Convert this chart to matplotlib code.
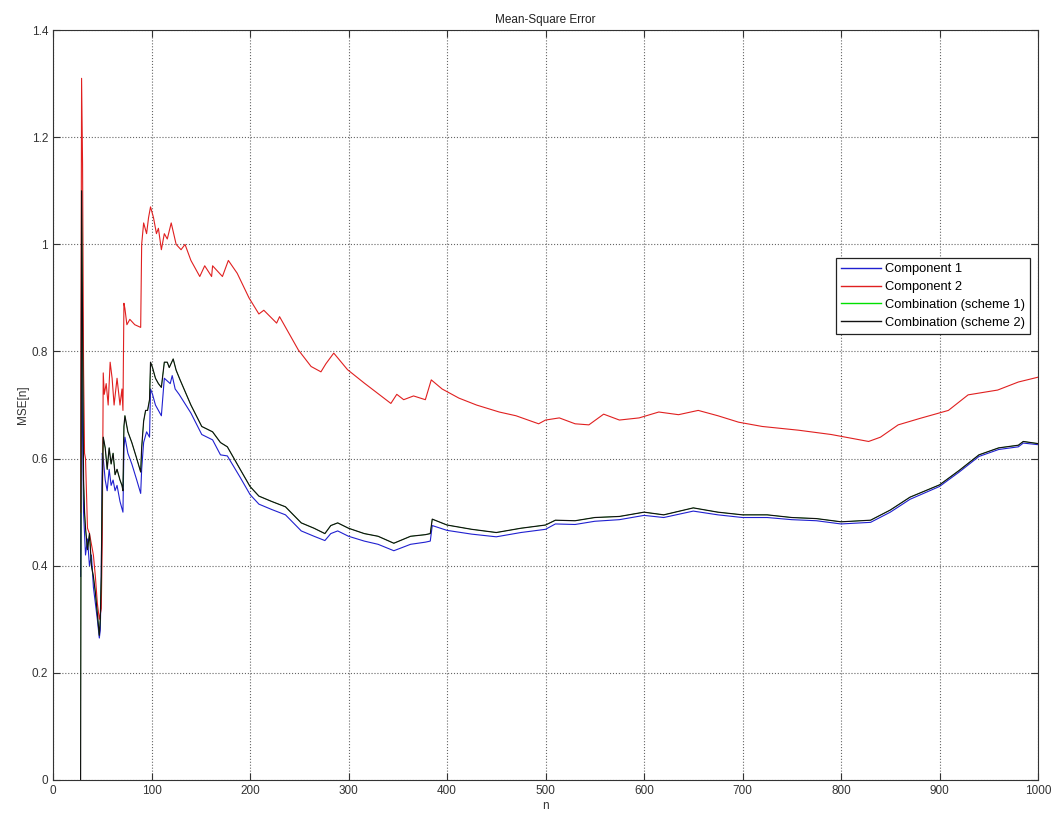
import matplotlib
matplotlib.use("Agg")
import matplotlib.pyplot as plt
from matplotlib.ticker import FuncFormatter

# Component 1 (blue)
n_c1 = [28, 29, 30, 31, 33, 35, 37, 39, 41, 43, 45, 47, 48, 49, 50, 51, 53, 55, 57, 59,
        61, 63, 65, 68, 71, 72, 73, 76, 80, 85, 89, 90, 92, 95, 98, 99, 101, 104, 107, 110,
        113, 116, 119, 121, 124, 128, 140, 151, 162, 170, 177, 190, 200, 209, 222, 236, 252,
        265, 276, 282, 289, 300, 316, 330, 346, 363, 378, 383, 385, 400, 425, 450, 475, 500,
        510, 530, 550, 575, 600, 620, 650, 675, 700, 725, 750, 775, 800, 830, 850, 870, 900,
        920, 940, 960, 980, 985, 1000]
mse_c1 = [0.38, 0.93, 0.65, 0.50, 0.42, 0.45, 0.40, 0.42, 0.36, 0.33, 0.30, 0.265, 0.28, 0.38,
          0.61, 0.60, 0.56, 0.54, 0.58, 0.55, 0.56, 0.54, 0.55, 0.52, 0.50, 0.62, 0.64, 0.61,
          0.59, 0.56, 0.535, 0.58, 0.63, 0.65, 0.64, 0.73, 0.72, 0.70, 0.69, 0.68, 0.75, 0.745,
          0.74, 0.755, 0.73, 0.72, 0.685, 0.645, 0.635, 0.607, 0.605, 0.565, 0.533, 0.515,
          0.505, 0.495, 0.465, 0.455, 0.447, 0.46, 0.465, 0.455, 0.446, 0.44, 0.428, 0.44,
          0.444, 0.446, 0.475, 0.466, 0.459, 0.454, 0.462, 0.468, 0.478, 0.477, 0.483, 0.486,
          0.494, 0.49, 0.502, 0.495, 0.49, 0.49, 0.486, 0.484, 0.478, 0.481, 0.50, 0.524,
          0.548, 0.575, 0.604, 0.617, 0.622, 0.629, 0.626]

# Component 2 (red)
n_c2 = [28, 29, 30, 31, 32, 33, 35, 37, 39, 41, 43, 45, 47, 49, 50, 51, 52, 54, 56, 58, 60,
        62, 65, 68, 70, 71, 72, 73, 75, 78, 83, 89, 90, 92, 95, 97, 99, 102, 105, 107, 110,
        113, 116, 120, 125, 130, 134, 140, 149, 154, 161, 162, 172, 178, 187, 199, 209, 214,
        227, 230, 249, 262, 272, 277, 285, 299, 316, 343, 349, 356, 366, 378, 384, 395, 412,
        430, 453, 470, 493, 500, 514, 530, 544, 559, 575, 595, 615, 635, 655, 675, 696, 720,
        757, 790, 828, 840, 858, 880, 909, 929, 959, 980, 1000]
mse_c2 = [0.50, 1.31, 1.15, 0.77, 0.61, 0.60, 0.47, 0.46, 0.44, 0.42, 0.38, 0.33, 0.30, 0.32,
          0.45, 0.76, 0.72, 0.74, 0.70, 0.78, 0.75, 0.70, 0.75, 0.70, 0.73, 0.69, 0.89, 0.88,
          0.85, 0.86, 0.85, 0.845, 1.00, 1.04, 1.02, 1.05, 1.07, 1.05, 1.02, 1.03, 0.99, 1.02,
          1.01, 1.04, 1.00, 0.99, 1.00, 0.97, 0.94, 0.96, 0.94, 0.96, 0.94, 0.97, 0.946, 0.90,
          0.87, 0.877, 0.853, 0.865, 0.803, 0.772, 0.762, 0.777, 0.797, 0.766, 0.741, 0.703,
          0.72, 0.71, 0.717, 0.71, 0.747, 0.73, 0.713, 0.70, 0.687, 0.68, 0.665, 0.672, 0.676,
          0.665, 0.663, 0.683, 0.672, 0.676, 0.687, 0.682, 0.69, 0.68, 0.668, 0.66, 0.653,
          0.645, 0.632, 0.64, 0.663, 0.675, 0.69, 0.719, 0.728, 0.743, 0.752]

# Combination (scheme 2) (black); scheme 1 lies underneath it
n_cb = [28, 29, 30, 31, 32, 33, 35, 37, 39, 41, 43, 45, 47, 48, 49, 50, 51, 53, 55, 57, 59,
        61, 63, 65, 68, 70, 71, 72, 73, 76, 80, 85, 89, 90, 92, 94, 96, 98, 99, 101, 104, 107,
        110, 113, 116, 118, 122, 125, 129, 140, 151, 162, 170, 177, 190, 200, 209, 222, 236,
        252, 265, 276, 282, 289, 300, 316, 330, 346, 363, 378, 383, 385, 400, 425, 450, 475,
        500, 510, 530, 550, 575, 600, 620, 650, 675, 700, 725, 750, 775, 800, 830, 850, 870,
        900, 920, 940, 960, 980, 985, 1000]
mse_s2 = [0.0, 1.10, 0.85, 0.56, 0.50, 0.47, 0.43, 0.46, 0.40, 0.38, 0.35, 0.31, 0.27, 0.30,
          0.38, 0.55, 0.64, 0.62, 0.58, 0.62, 0.59, 0.61, 0.57, 0.58, 0.56, 0.55, 0.54, 0.66,
          0.68, 0.65, 0.63, 0.60, 0.575, 0.62, 0.67, 0.69, 0.69, 0.71, 0.78, 0.77, 0.75, 0.74,
          0.733, 0.78, 0.78, 0.77, 0.786, 0.765, 0.747, 0.70, 0.66, 0.65, 0.63, 0.622, 0.58,
          0.548, 0.53, 0.52, 0.51, 0.48, 0.47, 0.46, 0.475, 0.48, 0.47, 0.46, 0.455, 0.442,
          0.455, 0.458, 0.46, 0.487, 0.476, 0.468, 0.462, 0.47, 0.476, 0.485, 0.484, 0.49,
          0.492, 0.50, 0.495, 0.508, 0.50, 0.495, 0.495, 0.49, 0.488, 0.482, 0.485, 0.504,
          0.528, 0.551, 0.578, 0.607, 0.62, 0.625, 0.632, 0.628]
mse_s1 = list(mse_s2)

plt.rcParams.update({'font.family': 'Liberation Sans', 'font.size': 8.5})

fig = plt.figure(figsize=(10.56, 8.14), dpi=100)
ax = fig.add_axes([0.0502, 0.0418, 0.9328, 0.9212])

ax.plot(n_c1, mse_c1, color='#2020d0', lw=0.8, label='Component 1')
ax.plot(n_c2, mse_c2, color='#e02020', lw=0.8, label='Component 2')
ax.plot(n_cb, mse_s1, color='#00e000', lw=0.4, label='Combination (scheme 1)')
ax.plot(n_cb, mse_s2, color='#111111', lw=0.85, label='Combination (scheme 2)')

ax.set_xlim(0, 1000)
ax.set_ylim(0, 1.4)
ax.set_xticks(range(0, 1001, 100))
ax.set_yticks([0, 0.2, 0.4, 0.6, 0.8, 1.0, 1.2, 1.4])
ax.yaxis.set_major_formatter(FuncFormatter(lambda v, p: '%g' % v))
ax.tick_params(direction='in', top=True, right=True, length=5, width=0.8,
               colors='#333333', labelcolor='#333333')
ax.grid(True, linestyle=':', color='#666666', lw=0.8)
for s in ax.spines.values():
    s.set_linewidth(0.8)
    s.set_color('#333333')

ax.set_title('Mean-Square Error', fontsize=8.5, pad=5, color='#222222')
ax.set_xlabel('n', labelpad=2, color='#333333')
ax.set_ylabel('MSE[n]', labelpad=2, color='#333333')

leg = ax.legend(loc='upper right', bbox_to_anchor=(0.992, 0.696), borderaxespad=0,
                fancybox=False, edgecolor='#222222', framealpha=1, fontsize=9.3,
                handlelength=3.1, handletextpad=0.3, labelspacing=0.45, borderpad=0.4)
leg.get_frame().set_linewidth(0.9)
for h in leg.get_lines():
    h.set_linewidth(1.0)

fig.savefig('out.png', dpi=100)
